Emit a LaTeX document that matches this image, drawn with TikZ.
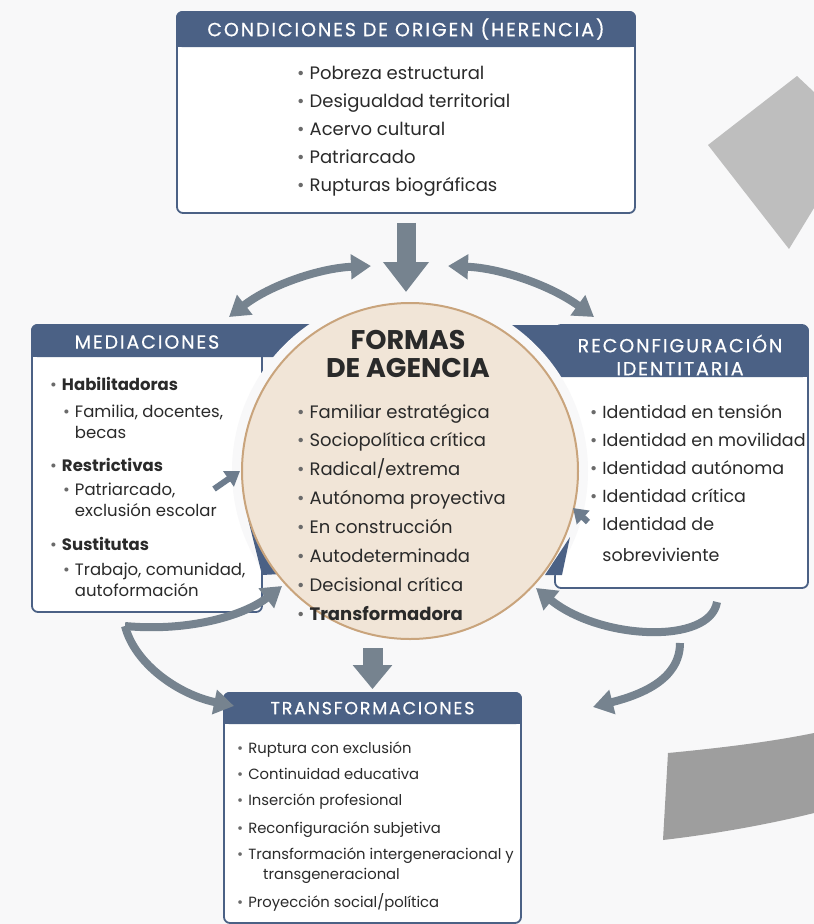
\documentclass[tikz,border=0pt]{standalone}
\usepackage{fontspec}
\setmainfont{Poppins}
\newfontfamily\hdrfont{Poppins}[LetterSpace=10, FakeBold=0.6]
\usepackage{xcolor}
\usepackage{tikz}
\usetikzlibrary{positioning, arrows.meta}

\definecolor{slate}{HTML}{4B6185}
\definecolor{ink}{HTML}{2A2A2A}
\definecolor{bulgray}{HTML}{6A6A6A}
\definecolor{flowgray}{HTML}{76838F}
\definecolor{beige}{HTML}{F1E5D7}
\definecolor{tan}{HTML}{C9A47C}
\definecolor{paper}{HTML}{F8F8F9}
\definecolor{shadegray}{HTML}{BEBEBE}
\definecolor{bandgray}{HTML}{9E9E9E}

\newcommand{\bul}{\textcolor{bulgray}{\textbullet}\hspace{5pt}}

\begin{document}
\begin{tikzpicture}[
x=1pt, y=-1pt,
every node/.style={inner sep=0pt, text=ink},
box/.style={draw=slate, line width=1.8pt, fill=white, rounded corners=6pt},
hdr/.style={text=white, font=\hdrfont\fontsize{19}{23}\selectfont, align=center},
list/.style={align=left, anchor=north west, font=\fontsize{18}{28}\selectfont},
flow/.style={draw=flowgray, line width=8pt, -{Triangle[length=20pt, width=24pt]}},
twoway/.style={draw=flowgray, line width=8pt, {Triangle[length=20pt, width=24pt]}-{Triangle[length=20pt, width=24pt]}},
bigflow/.style={draw=flowgray, line width=19pt, -{Triangle[length=30pt, width=44pt]}},
tiny/.style={draw=flowgray!80!slate, line width=6pt, -{Triangle[length=14pt, width=18pt]}}
]

% ====== Background ======
\fill[paper] (0,0) rectangle (814,924);
\useasboundingbox (0,0) rectangle (814,924);

% ====== Big grey shapes (cut at the edge) ======
\fill[shadegray] (797,76) -- (708,145) -- (789,249) -- (814,208) -- (814,92) -- cycle;
\fill[bandgray] (668,753) .. controls (720,748) and (770,742) .. (814,733) -- (814,813)
  .. controls (770,824) and (715,834) .. (663,840) -- cycle;

% ====== Condiciones de origen ======
\node[box, minimum width=458pt, minimum height=201pt] (origen) at (406,112.5) {};
\fill[slate, rounded corners=6pt] (origen.north west) rectangle ([yshift=-36pt]origen.north east);
\fill[slate] ([yshift=-20pt]origen.north west) rectangle ([yshift=-36pt]origen.north east);
\node[hdr] (origenhd) at ([yshift=-18pt]origen.north) {CONDICIONES DE ORIGEN (HERENCIA)};
\node[list] (origenlist) at (297,65.8) {\bul Pobreza estructural\\ \bul Desigualdad territorial\\
  \bul Acervo cultural\\ \bul Patriarcado\\ \bul Rupturas biográficas};

% ====== Mediaciones ======
\node[box, minimum width=230pt, minimum height=287pt] (mediac) at (147,468.5) {};
\fill[slate, rounded corners=6pt] (mediac.north west) rectangle (330,357);
\fill[slate] (32,341) rectangle (330,357);

% ====== Reconfiguracion identitaria ======
\node[box, minimum width=253pt, minimum height=263pt] (reconf) at (681.5,456.5) {};
\fill[slate, rounded corners=6pt] (500,325) rectangle (reconf.north east |- 0,377);
\fill[slate] (500,350) rectangle (reconf.north east |- 0,377);

% ====== Cut round the circle ======
\fill[paper] (410,471) circle[radius=178];
\fill[slate] (248,519) -- (262,575) -- (281,574) -- cycle;
\fill[slate] (570,537) -- (545,575) -- (562,575) -- cycle;

% ====== Formas de agencia ======
\node[circle, draw=tan, line width=2pt, fill=beige, minimum size=336pt] (agencia) at (410,471) {};
\node[font=\bfseries\fontsize{27}{28}\selectfont, align=center] (agenciahd) at (408,354) {FORMAS\\DE AGENCIA};
\node[list, font=\fontsize{18}{28.9}\selectfont] (agencialist) at (297,403.8) {\bul Familiar estratégica\\
  \bul Sociopolítica crítica\\ \bul Radical/extrema\\ \bul Autónoma proyectiva\\ \bul En construcción\\
  \bul Autodeterminada\\ \bul Decisional crítica\\ \bul \textbf{Transformadora}};

% ====== Side texts ======
\node[hdr] (mediachd) at (147,342) {MEDIACIONES};
\node[list, font=\fontsize{16.5}{21}\selectfont] (mediaclist) at (50,377.4) {\bul\textbf{Habilitadoras}\\[6pt]
  \hspace*{13pt}\bul Familia, docentes,\\ \hspace*{13pt}\phantom{\bul}becas\\[12pt]
  \bul\textbf{Restrictivas}\\[3pt]
  \hspace*{13pt}\bul Patriarcado,\\ \hspace*{13pt}\phantom{\bul}exclusión escolar\\[13pt]
  \bul\textbf{Sustitutas}\\[4pt]
  \hspace*{13pt}\bul Trabajo, comunidad,\\ \hspace*{13pt}\phantom{\bul}autoformación};

\node[hdr] (reconfhd) at (680,355) {RECONFIGURACIÓN\\IDENTITARIA};
\node[list, font=\fontsize{17.5}{28}\selectfont] (reconflist) at (590,404) {\bul Identidad en tensión\\
  \bul Identidad en movilidad\\ \bul Identidad autónoma\\ \bul Identidad crítica\\
  \phantom{\bul}Identidad de\\[3pt] \phantom{\bul}sobreviviente};

% ====== Transformaciones ======
\node[box, minimum width=297pt, minimum height=230pt] (transf) at (372.5,808) {};
\fill[slate, rounded corners=6pt] (transf.north west) rectangle ([yshift=-32pt]transf.north east);
\fill[slate] ([yshift=-18pt]transf.north west) rectangle ([yshift=-32pt]transf.north east);
\node[hdr, font=\hdrfont\fontsize{17.5}{21}\selectfont] (transfhd) at ([yshift=-16pt]transf.north) {TRANSFORMACIONES};
\node[list, font=\fontsize{14.8}{26}\selectfont] (transflist) at (237,741.6) {\bul Ruptura con exclusión\\
  \bul Continuidad educativa\\ \bul Inserción profesional\\[2pt] \bul Reconfiguración subjetiva\\
  \bul Transformación intergeneracional y\\[-6pt] \hspace*{26pt}transgeneracional\\[2pt]
  \bul Proyección social/política};

% ====== Free ends of the curved arrows ======
\coordinate (tlA) at (229,317);  \coordinate (tlB) at (371,266);
\coordinate (trA) at (448,266);  \coordinate (trB) at (594,317);
\coordinate (blA) at (125,626);  \coordinate (blB) at (282,586);  \coordinate (blC) at (234,706);
\coordinate (brA) at (717,602);  \coordinate (brB) at (536,588);
\coordinate (brC) at (680,643);  \coordinate (brD) at (593,707);
\coordinate (smA) at (214,489);  \coordinate (smB) at (240,471);
\coordinate (smC) at (588,522);  \coordinate (smD) at (573,508);

% ====== Connections ======
\draw[bigflow] ([yshift=-9pt]origen.south) -- ([yshift=10pt]origen.south |- agencia.north);
\draw[bigflow, line width=20pt, -{Triangle[length=24pt, width=38pt]}] ([yshift=-8pt]agencia.south -| transf.north) -- ([yshift=3pt]transf.north);
\draw[twoway] (tlA) .. controls (270,285) and (320,268) .. (tlB);
\draw[twoway] (trA) .. controls (500,268) and (550,285) .. (trB);
\draw[flow] (blA) .. controls (190,632) and (245,615) .. (blB);
\draw[flow] (blA) .. controls (135,665) and (180,695) .. (blC);
\draw[flow] (brA) .. controls (710,645) and (600,640) .. (brB);
\draw[flow] (brC) .. controls (680,680) and (640,695) .. (brD);
\draw[tiny] (smA) -- (smB);
\draw[tiny] (smC) -- (smD);

\end{tikzpicture}
\end{document}
